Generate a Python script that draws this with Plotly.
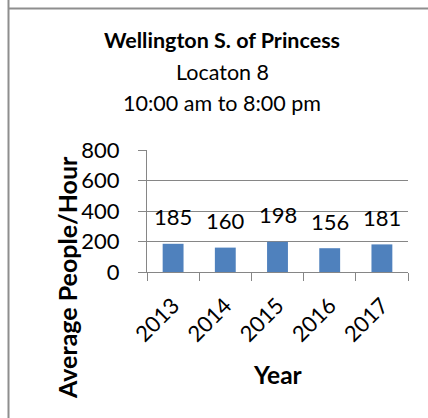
import plotly.graph_objects as go

years = ["2013", "2014", "2015", "2016", "2017"]
values = [185, 160, 198, 156, 181]
title_lines = ["<b>Wellington S. of Princess</b>", "Locaton 8", "10:00 am to 8:00 pm"]
y_title = "Average People/Hour"
x_title = "Year"

W, H = 428, 418
L, R, T, B = 147, 428 - 408, 150, 418 - 272
PW, PH = W - L - R, H - T - B

def px(x):
    return (x - L) / PW

def py(y):
    return (H - B - y) / PH

FONT = "Lato"
TS = 22
fig = go.Figure(go.Bar(x=years, y=values, marker=dict(color="#4F81BD", line=dict(width=0)), width=0.4))

ann = []
for i, v in enumerate(values):
    ann.append(dict(x=i, y=v, xref="x", yref="y", text=str(v), showarrow=False,
                    yshift=27, yanchor="middle", font=dict(size=TS, color="#000", family=FONT)))
ann.append(dict(x=px(222), y=py(40), xref="paper", yref="paper", text=title_lines[0], showarrow=False,
                xanchor="center", yanchor="middle", font=dict(size=21.5, color="#000", family=FONT)))
ann.append(dict(x=px(222), y=py(72.5), xref="paper", yref="paper", text=title_lines[1], showarrow=False,
                xanchor="center", yanchor="middle", font=dict(size=21.5, color="#000", family=FONT)))
ann.append(dict(x=px(222), y=py(102.5), xref="paper", yref="paper", text=title_lines[2], showarrow=False,
                xanchor="center", yanchor="middle", font=dict(size=21.5, color="#000", family=FONT)))
ann.append(dict(x=px(67), y=py(278), xref="paper", yref="paper", text="<b>" + y_title + "</b>", showarrow=False,
                textangle=-90, xanchor="center", yanchor="middle", font=dict(size=25, color="#000", family=FONT)))
ann.append(dict(x=px(278), y=py(374), xref="paper", yref="paper", text="<b>" + x_title + "</b>", showarrow=False,
                xanchor="center", yanchor="middle", font=dict(size=24.5, color="#000", family=FONT)))

shapes = [
    dict(type="line", xref="paper", yref="paper", x0=px(8.5), x1=px(8.5), y0=py(0), y1=py(418), line=dict(color="#8E8E8E", width=2)),
    dict(type="line", xref="paper", yref="paper", x0=px(8), x1=px(428), y0=py(8.5), y1=py(8.5), line=dict(color="#8E8E8E", width=2)),
]

fig.update_layout(
    width=W, height=H, margin=dict(l=L, r=R, t=T, b=B, autoexpand=False),
    paper_bgcolor="white", plot_bgcolor="white", showlegend=False,
    font=dict(family=FONT, size=TS, color="#000"),
    annotations=ann, shapes=shapes,
    xaxis=dict(type="category", range=[-0.5, len(years) - 0.5], tickangle=-45, ticks="outside", ticklen=8,
               tickcolor="#868686", tickson="boundaries",
               showline=True, linecolor="#868686", linewidth=1, showgrid=False,
               tickfont=dict(size=TS, family=FONT, color="#000"), ticklabelstandoff=11),
    yaxis=dict(range=[0, 800], dtick=200, ticks="outside", ticklen=8, tickcolor="#868686",
               showline=True, linecolor="#868686", linewidth=1, showgrid=True, gridcolor="#868686", gridwidth=1,
               zeroline=False, tickfont=dict(size=TS, family=FONT, color="#000"), ticklabelstandoff=14),
)
fig.write_html("out.html", config={"displayModeBar": False},
               post_script="document.body.style.margin='0';document.body.style.overflow='hidden';")
